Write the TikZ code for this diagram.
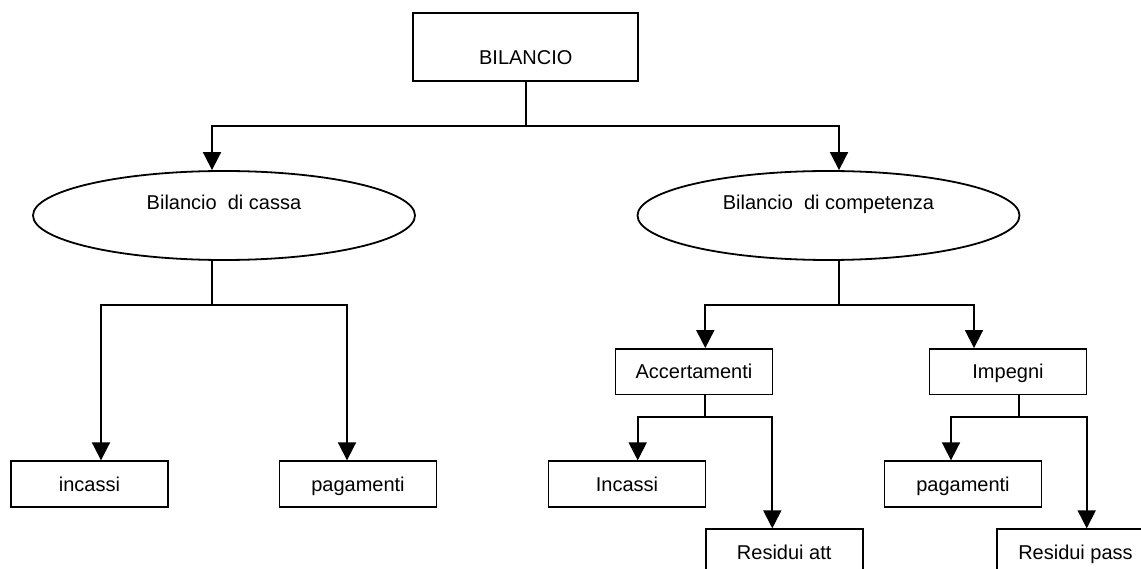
\documentclass[tikz,border=0pt]{standalone}
\usepackage{fontspec}
\setmainfont{Liberation Sans}
\usetikzlibrary{arrows.meta,shapes.geometric}
\begin{document}
\begin{tikzpicture}[x=1pt,y=-1pt,
  line width=1.8pt, line join=miter,
  every node/.style={font=\fontsize{20}{24}\selectfont, inner sep=0pt},
  box/.style={draw, rectangle, minimum width=157pt, minimum height=45.5pt,
              text height=14.3pt, text depth=0pt},
  oval/.style={draw, ellipse, minimum width=382pt, minimum height=89pt,
               text height=14.3pt, text depth=26.7pt},
  arr/.style={-{Triangle[length=18pt,width=18pt]}}]
\clip (0,0) rectangle (1141,569);

% root
\node[draw, minimum width=225pt, text height=51.7pt, text depth=15.7pt]
  (bil) at (525.8,47) {BILANCIO};

% second level
\node[oval] (cassa) at (224,215.5) {Bilancio\ \ di cassa};
\node[oval] (comp) at (828.5,215.5) {Bilancio\ \ di competenza};

% leaves of the cash budget
\node[box] (inc1) at (89.5,484) {incassi};
\node[box] (pag1) at (358,484) {pagamenti};

% accrual budget
\node[box] (acc) at (694,371.7) {Accertamenti};
\node[box] (imp) at (1008,371.7) {Impegni};
\node[box] (inc2) at (627,484) {Incassi};
\node[box] (ra) at (784.2,552) {Residui att};
\node[box] (pag2) at (963,484) {pagamenti};
\node[box] (rp) at (1075.5,552) {Residui pass};

% branch points and drop columns
\coordinate (top) at (525.8,125.7);
\coordinate (xL) at (212,0);
\coordinate (xR) at (839,0);
\coordinate (fL) at (212,305);
\coordinate (fR) at (839,305);
\coordinate (xi1) at (101,0);
\coordinate (xp1) at (347,0);
\coordinate (xa) at (705.3,0);
\coordinate (xm) at (974,0);
\coordinate (fA) at (705.3,416.7);
\coordinate (fI) at (1019,416.7);
\coordinate (xi2) at (637.7,0);
\coordinate (xr2) at (772.3,0);
\coordinate (xp2) at (951,0);
\coordinate (xr3) at (1086.7,0);

% root to the two budgets
\draw (bil.south) -- (top);
\draw[arr] (top) -| (xL |- cassa.north);
\draw[arr] (top) -| (xR |- comp.north);

% cash budget
\draw (xL |- cassa.south) -- (fL);
\draw[arr] (fL) -| (xi1 |- inc1.north);
\draw[arr] (fL) -| (xp1 |- pag1.north);

% accrual budget
\draw (xR |- comp.south) -- (fR);
\draw[arr] (fR) -| (xa |- acc.north);
\draw[arr] (fR) -| (xm |- imp.north);

% Accertamenti
\draw (fA |- acc.south) -- (fA);
\draw[arr] (fA) -| (xi2 |- inc2.north);
\draw[arr] (fA) -| (xr2 |- ra.north);

% Impegni
\draw (fI |- imp.south) -- (fI);
\draw[arr] (fI) -| (xp2 |- pag2.north);
\draw[arr] (fI) -| (xr3 |- rp.north);
\end{tikzpicture}
\end{document}
